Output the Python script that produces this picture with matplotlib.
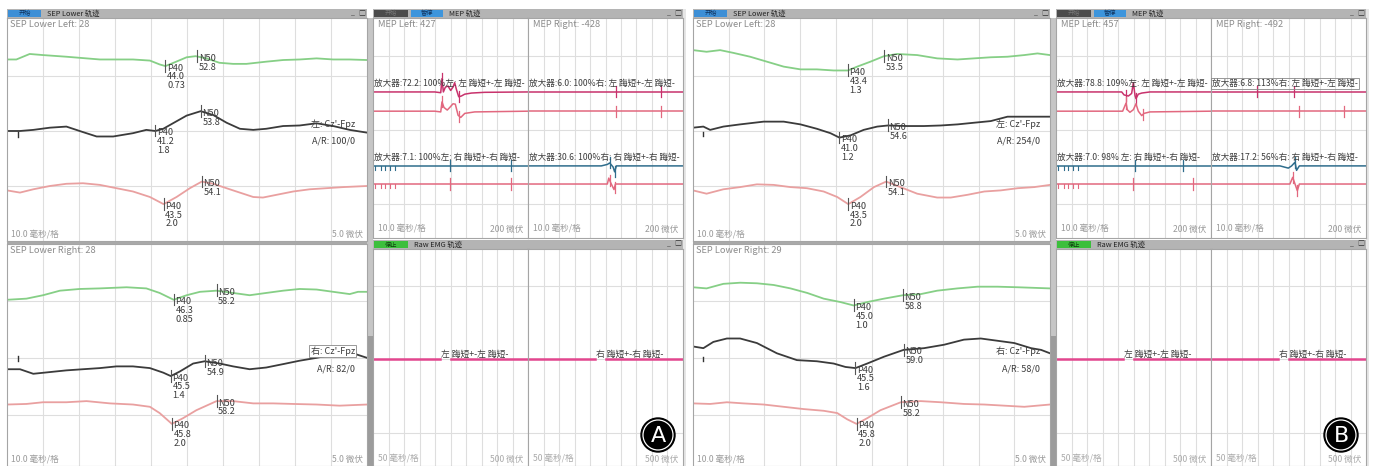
import numpy as np
import matplotlib.pyplot as plt
from matplotlib.patches import Rectangle, Circle

plt.rcParams['font.family'] = ['Noto Sans CJK SC', 'DejaVu Sans']

# ---------------- SEP data (ms, uV) ----------------
# A - upper (SEP Lower Left)
a_up_green_ms = [0, 2.6, 6.3, 10, 16.5, 25.8, 35, 39.7, 42.4, 44, 47, 49.9, 52.4, 55.4, 59, 62.8, 66.5, 72, 76.7, 81.3, 86, 90.6, 95.2, 100]
a_up_green_uv = [16.5, 16.5, 17.0, 16.9, 16.75, 16.5, 16.5, 16.4, 16.05, 15.9, 16.3, 16.7, 16.8, 16.6, 16.2, 16.1, 16.1, 16.3, 16.45, 16.5, 16.6, 16.5, 16.5, 16.45]
a_up_black_ms = [0, 3.6, 7.3, 11.9, 16.5, 21.1, 24.9, 29.5, 35, 38.7, 41.2, 43.4, 46.1, 49.9, 53.8, 57.3, 61, 64.7, 68.4, 72, 76.7, 81.3, 86, 90.6, 95.2, 100]
a_up_black_uv = [10.0, 10.0, 10.1, 10.3, 10.4, 9.9, 9.5, 9.5, 9.8, 10.1, 10.0, 10.2, 10.7, 11.4, 11.8, 11.45, 10.75, 10.2, 10.1, 10.2, 10.45, 10.5, 10.7, 10.45, 10.1, 9.85]
a_up_pink_ms = [0, 3.6, 7.3, 11.9, 16.5, 21.1, 25.8, 30.4, 35, 39.7, 43.5, 47.1, 50.8, 54.1, 57.3, 62.8, 68.4, 71.1, 74.9, 79.5, 84.1, 88.7, 93.4, 100]
a_up_pink_uv = [4.6, 4.4, 4.7, 5.0, 5.2, 5.25, 5.1, 4.8, 4.5, 4.0, 3.35, 4.0, 4.8, 5.4, 5.2, 4.6, 4.0, 3.95, 4.2, 4.5, 4.7, 4.8, 4.9, 5.0]
a_up_p40 = [44.0, 41.2, 43.5]
a_up_p40_amp = ['0.73', '1.8', '2.0']
a_up_n50 = [52.8, 53.8, 54.1]

# A - lower (SEP Lower Right)
a_lo_green_ms = [0, 5.4, 10, 14.7, 20.2, 25.8, 33.2, 38.7, 42.4, 46.3, 49.9, 53.6, 58.2, 62.8, 67.4, 72, 76.7, 81.3, 86, 90.6, 95.2, 97.5, 100]
a_lo_green_uv = [15.1, 15.2, 15.5, 15.9, 16.05, 16.1, 16.2, 16.1, 15.7, 15.1, 15.5, 15.8, 15.9, 15.7, 15.5, 15.7, 15.9, 16.05, 16.0, 15.8, 15.6, 15.8, 15.8]
a_lo_black_ms = [0, 3.6, 7.3, 11.9, 16.5, 21.1, 25.8, 30.4, 35, 39.7, 43.4, 45.5, 48, 51.7, 54.9, 59.1, 62.8, 67.4, 72, 76.7, 81.3, 86, 90.6, 94.3, 97.1, 100]
a_lo_black_uv = [9.0, 9.0, 8.6, 8.75, 8.9, 9.0, 9.1, 9.25, 9.25, 9.1, 8.7, 8.4, 8.8, 9.5, 9.7, 9.5, 9.25, 9.0, 9.15, 9.45, 9.75, 10.0, 10.3, 10.4, 10.3, 10.0]
a_lo_pink_ms = [0, 5.4, 10, 16.5, 22.1, 28.6, 35, 39.7, 42.4, 45.8, 48.9, 52.6, 58.2, 62.8, 68.4, 73.9, 79.5, 86, 92.4, 100]
a_lo_pink_uv = [5.9, 5.95, 6.1, 6.1, 6.2, 6.0, 5.9, 5.7, 5.15, 4.2, 4.7, 5.4, 6.2, 6.2, 6.0, 6.0, 5.95, 5.9, 5.8, 5.9]
a_lo_p40 = [46.3, 45.5, 45.8]
a_lo_p40_amp = ['0.85', '1.4', '2.0']
a_lo_n50 = [58.2, 54.9, 58.2]

# B - upper
b_up_green_ms = [0, 3.8, 7.6, 11.3, 16, 20.7, 25.4, 30.1, 34.7, 39.4, 43.4, 46, 49.7, 53.5, 57.2, 62.8, 68.4, 74.1, 78.7, 83.4, 88.1, 92.8, 96.5, 100]
b_up_green_uv = [17.35, 17.2, 17.35, 17.1, 16.75, 16.3, 15.85, 15.6, 15.6, 15.5, 15.5, 15.85, 16.3, 16.8, 17.0, 16.9, 16.6, 16.5, 16.6, 16.7, 16.75, 16.9, 17.05, 16.9]
b_up_black_ms = [0, 2.9, 4.8, 8.5, 13.2, 19.8, 25.4, 30.1, 34.7, 38.5, 41.0, 44.1, 47.8, 51.6, 54.6, 60, 64.7, 69.4, 74.1, 78.7, 83.4, 88.1, 92.8, 100]
b_up_black_uv = [10.3, 10.4, 10.1, 10.4, 10.6, 10.85, 10.85, 10.6, 10.2, 9.8, 9.4, 9.6, 10.1, 10.4, 10.5, 10.45, 10.45, 10.5, 10.6, 10.75, 10.9, 11.3, 11.3, 11.3]
b_up_pink_ms = [0, 3.8, 8.5, 13.2, 17.9, 22.6, 27.3, 31.9, 36.6, 40.4, 43.5, 46.9, 50.7, 54.1, 58.1, 62.8, 68.4, 72.2, 76.9, 81.6, 86.2, 91, 95.6, 100]
b_up_pink_uv = [4.6, 4.3, 4.7, 4.9, 5.15, 5.1, 4.9, 4.8, 4.5, 4.0, 3.35, 4.0, 4.9, 5.4, 4.9, 4.3, 3.95, 3.95, 4.2, 4.5, 4.6, 4.8, 4.9, 5.1]
b_up_p40 = [43.4, 41.0, 43.5]
b_up_p40_amp = ['1.3', '1.2', '2.0']
b_up_n50 = [53.5, 54.6, 54.1]

# B - lower
b_lo_green_ms = [0, 3.8, 8.5, 13.2, 17.9, 22.6, 27.3, 32, 36.6, 41.3, 45.0, 48.8, 53.5, 58.8, 63.8, 68.4, 74.1, 79.7, 85.3, 91, 100]
b_lo_green_uv = [16.2, 16.1, 16.5, 16.6, 16.55, 16.4, 16.1, 15.7, 15.2, 14.9, 14.6, 14.9, 15.2, 15.5, 15.6, 15.9, 16.1, 16.25, 16.25, 16.2, 16.1]
b_lo_black_ms = [0, 2.9, 5.7, 9.5, 13.2, 17.9, 23.5, 29.1, 34.7, 39.4, 42.7, 45.5, 48.8, 53.5, 59.0, 64.7, 70.3, 75.9, 80.6, 85.3, 90, 94.7, 97.5, 100]
b_lo_black_uv = [11.0, 10.85, 11.4, 11.7, 11.7, 11.3, 10.4, 9.8, 9.7, 9.5, 9.2, 9.1, 9.5, 10.1, 10.7, 10.85, 11.15, 11.6, 11.7, 11.5, 11.3, 10.85, 10.7, 10.4]
b_lo_pink_ms = [0, 4.8, 9.5, 14.1, 19.8, 25.4, 31, 36.6, 40.4, 43.2, 45.8, 48.8, 52.5, 58.2, 63.8, 69.4, 75.9, 81.6, 87.2, 92.8, 100]
b_lo_pink_uv = [6.0, 5.95, 6.1, 6.0, 5.9, 5.7, 5.5, 5.35, 5.15, 4.6, 4.2, 4.7, 5.4, 6.1, 6.2, 6.1, 5.95, 5.9, 5.8, 5.7, 5.9]
b_lo_p40 = [45.0, 45.5, 45.8]
b_lo_p40_amp = ['1.0', '1.6', '2.0']
b_lo_n50 = [58.8, 59.0, 58.2]

# stimulus mark on the cortical trace: ms, low uV, high uV
a_up_stim = [3.0, 9.45, 9.9]
a_lo_stim = [3.0, 9.7, 10.2]
b_up_stim = [2.7, 9.5, 9.9]
b_lo_stim = [2.7, 9.7, 10.1]

# ---------------- MEP data (ms, uV deflection) ----------------
flat_ms = [0, 100]
flat_uv = [0, 0]
a_mep_l_mag_ms = [0, 39.8, 43.7, 44.5, 45.4, 46.7, 48.4, 50.1, 51.6, 52.7, 53.8, 55.3, 57, 59.2, 63.5, 72, 100]
a_mep_l_mag_uv = [0, 0, -2, 36, 0, 13, 16, 4, 13, 25, 7, -13, -11, -6, -3, -1, 0]
a_mep_l_pk_ms = [0, 39.8, 43.7, 44.5, 45.8, 47.9, 49.5, 51.6, 53.1, 54.9, 56.6, 59.2, 65.6, 100]
a_mep_l_pk_uv = [0, 0, -2, 25, 10, 3, 10, 20, 19, -11, -17, -6, -2, 0]
a_mep_r_teal_ms = [0, 47.3, 51.2, 52.7, 54.9, 55.9, 57, 100]
a_mep_r_teal_uv = [0, 0, 4, 8, -3, -16, 0, 0]
a_mep_r_pk2_ms = [0, 51.2, 52.1, 53.4, 55.5, 56.4, 100]
a_mep_r_pk2_uv = [0, 0, 16, 3, -15, 0, 0]
b_mep_l_mag_ms = [0, 42.4, 43.9, 46.7, 48.8, 49.9, 51, 51.6, 53.1, 55.3, 60.6, 100]
b_mep_l_mag_uv = [0, 0, -8, -11, -4, 25, -10, -18, -6, -3, 0, 0]
b_mep_l_pk_ms = [0, 43, 45.2, 46, 47.7, 49.9, 51.6, 53.1, 55.3, 56.8, 60.6, 100]
b_mep_l_pk_uv = [0, 0, 22, 4, -3, 4, 20, 0, -12, -6, -2, 0]
b_mep_r_teal_ms = [0, 44.5, 49.9, 52, 54.2, 55.2, 57, 100]
b_mep_r_teal_uv = [0, 0, -6, 0, 10, -12, 0, 0]
b_mep_r_pk2_ms = [0, 50.9, 52.7, 54.2, 55.7, 57, 100]
b_mep_r_pk2_uv = [0, 0, 18, 0, -18, 0, 0]
stim_artifacts = [1.5, 5, 8, 11, 14]

a_mep_labels_l = ['放大器:72.2: 100%左: 左 踇短+-左 踇短-', '放大器:7.1: 100%左: 右 踇短+-右 踇短-']
a_mep_labels_r = ['放大器:6.0: 100%右: 左 踇短+-左 踇短-', '放大器:30.6: 100%右: 右 踇短+-右 踇短-']
b_mep_labels_l = ['放大器:78.8: 109%左: 左 踇短+-左 踇短-', '放大器:7.0: 98% 左: 右 踇短+-右 踇短-']
b_mep_labels_r = ['放大器:6.8: 113%右: 左 踇短+-左 踇短-', '放大器:17.2: 56%右: 右 踇短+-右 踇短-']

# Raw EMG (ms, uV)
emg_ms_1 = [0, 216]
emg_ms_2 = [250, 500]
emg_uv = [0, 0]

# ---------------- figure ----------------
W, H = 1373, 466
fig = plt.figure(figsize=(W / 100, H / 100), dpi=100)
fig.patch.set_facecolor('white')
bg = fig.add_axes([0, 0, 1, 1], zorder=0)
bg.set_xlim(0, W); bg.set_ylim(H, 0); bg.axis('off')
top = fig.add_axes([0, 0, 1, 1], zorder=5)
top.set_xlim(0, W); top.set_ylim(H, 0); top.axis('off')

GREEN, BLACK, PINK = '#86cf86', '#3b3b3b', '#e9a0a0'
MAG, MPK, TEAL = '#c8326c', '#e2687f', '#2f6d8c'
TXT, GRAY = '#3c3c3c', '#9a9a9a'


def box(x0, y0, x1, y1, color, ax=bg):
    ax.add_patch(Rectangle((x0, y0), x1 - x0, y1 - y0, facecolor=color, edgecolor='none'))


def px_axes(x0, y0, x1, y1):
    ax = fig.add_axes([x0 / W, 1 - y1 / H, (x1 - x0) / W, (y1 - y0) / H], zorder=1)
    for s in ax.spines.values():
        s.set_color('#a5a5a5'); s.set_linewidth(0.8)
    ax.tick_params(length=0, labelbottom=False, labelleft=False)
    ax.grid(True, color='#dedede', lw=0.8)
    ax.set_axisbelow(True)
    return ax


def header(x0, x1, y0, buttons, title):
    box(x0, y0, x1, y0 + 9, '#b4b4b4')
    for bx0, bx1, col, txt, tc in buttons:
        box(bx0, y0 + 1, bx1, y0 + 8, col)
        bg.text((bx0 + bx1) / 2, y0 + 4.5, txt, fontsize=4.5, color=tc, ha='center', va='center')
    bg.text(buttons[-1][1] + 6, y0 + 4.5, title, fontsize=5.3, color='#222', va='center')
    bg.text(x1 - 14, y0 + 4.5, '_', fontsize=5, color='#333', va='center', ha='center')
    bg.text(x1 - 5, y0 + 4.5, '□', fontsize=5, color='#333', va='center', ha='center')


def sep_panel(x0, y0, x1, y1, ylim, name, traces, p40, p40_amp, n50, stim, montage, ar, mx, boxed):
    ax = px_axes(x0, y0, x1, y1)
    ax.set_xlim(0, 100); ax.set_ylim(*ylim)
    ax.set_xticks(np.arange(10, 100, 10)); ax.set_yticks([5, 10, 15])
    for (t, v, c), lat, amp, n in zip(traces, p40, p40_amp, n50):
        ax.plot(t, v, color=c, lw=1.3)
        for L, lab in ((lat, f'P40\n{lat:.1f}\n{amp}'), (n, f'N50\n{n:.1f}')):
            y = np.interp(L, t, v)
            ax.plot([L, L], [y - 0.5, y + 0.55], color='#555', lw=0.8)
            ax.annotate(lab, (L, y), xytext=(1.2, 1.8), textcoords='offset points',
                        va='top', ha='left', fontsize=6.6, color=TXT, linespacing=0.98)
    ax.plot([stim[0], stim[0]], stim[1:], color='#333', lw=1.0)
    kw = dict(boxstyle='square,pad=0.15', fc='white', ec='#888', lw=0.6) if boxed else None
    ax.text(mx, 10.6, montage, ha='right', va='center', fontsize=6.5, color=TXT, bbox=kw)
    ax.text(mx, 9.05, ar, ha='right', va='center', fontsize=6.5, color=TXT)
    ax.text(0.008, 0.99, name, transform=ax.transAxes, va='top', fontsize=6.7, color='#8c8c8c')
    ax.text(0.012, 0.008, '10.0 毫秒/格', transform=ax.transAxes, va='bottom', fontsize=6.2, color=GRAY)
    ax.text(0.99, 0.008, '5.0 微伏', transform=ax.transAxes, va='bottom', ha='right', fontsize=6.2, color=GRAY)
    return ax


MEP_BASE = [503, 451, 303, 254]


def mep_panel(x0, x1, name, traces, labels, boxed=False):
    ax = px_axes(x0, 18, x1, 238)
    ax.set_xlim(0, 100); ax.set_ylim(108, 703)
    ax.set_xticks(np.arange(10, 100, 10)); ax.set_yticks([200, 400, 600])
    for (t, v, c, marks, arts), base in zip(traces, MEP_BASE):
        y = base + np.asarray(v, float)
        ax.plot(t, y, color=c, lw=1.1)
        for m in marks:
            ym = base + np.interp(m, t, v)
            ax.plot([m, m], [ym - 15, ym + 15], color=c, lw=0.9)
        for a in arts:
            ax.plot([a, a], [base, base - 11], color=c, lw=0.8)
    kw = dict(boxstyle='square,pad=0.1', fc='none', ec='#888', lw=0.6) if boxed else None
    ax.text(0.5, MEP_BASE[0] + 22, labels[0], va='center', fontsize=6.2, color=TXT, clip_on=False, bbox=kw)
    ax.text(0.5, MEP_BASE[2] + 24, labels[1], va='center', fontsize=6.2, color=TXT, clip_on=False)
    if name:
        ax.text(0.03, 0.99, name, transform=ax.transAxes, va='top', fontsize=6.7, color='#8c8c8c')
    ax.text(0.03, 0.02, '10.0 毫秒/格', transform=ax.transAxes, va='bottom', fontsize=6.2, color=GRAY)
    ax.text(0.97, 0.02, '200 微伏', transform=ax.transAxes, va='bottom', ha='right', fontsize=6.2, color=GRAY)
    return ax


def emg_panel(x0, x1, label):
    ax = px_axes(x0, 249, x1, 466)
    ax.set_xlim(0, 500); ax.set_ylim(-725, 752)
    ax.set_xticks(np.arange(50, 500, 50)); ax.set_yticks([-500, 0, 500])
    ax.plot(emg_ms_1, emg_uv, color='#e2468e', lw=1.8)
    ax.plot(emg_ms_2, emg_uv, color='#e2468e', lw=1.8)
    ax.text(218, 32, label, va='center', fontsize=6.3, color=TXT)
    ax.text(0.03, 0.01, '50 毫秒/格', transform=ax.transAxes, va='bottom', fontsize=6.2, color='#aaaaaa')
    ax.text(0.97, 0.01, '500 微伏', transform=ax.transAxes, va='bottom', ha='right', fontsize=6.2, color='#aaaaaa')
    return ax


def build(ox, sep_x1, mep_x0, up, lo, names, mep_names, mep_l, mep_r, mep_lab_l, mep_lab_r, boxed_lo, boxed_mep, mx, letter):
    mep_mid = mep_x0 + 155
    mep_x1 = mep_x0 + 310
    # chrome
    header(ox, sep_x1, 9, [(ox + 1, ox + 34, '#3d8fd6', '开始', '#10335e')], 'SEP Lower 轨迹')
    header(mep_x0, mep_x1, 9, [(mep_x0 + 1, mep_x0 + 35, '#4b4b4b', '开始', '#777'),
                               (mep_x0 + 38, mep_x0 + 70, '#3d95dc', '暂停', '#10335e')], 'MEP 轨迹')
    header(mep_x0, mep_x1, 240, [(mep_x0 + 1, mep_x0 + 35, '#3cbf3c', '停止', '#0f3f0f')], 'Raw EMG 轨迹')
    box(sep_x1, 18, mep_x0, 466, '#c6c6c6')
    box(sep_x1, 336, mep_x0, 466, '#9c9c9c')
    box(ox, 241, sep_x1, 244, '#aaaaaa')
    box(mep_x1, 9, mep_x1 + 3, 466, '#e6e6e6')

    sep_panel(ox, 18, sep_x1, 241, (0, 20.27), names[0], up[0], up[1], up[2], up[3], up[4],
              "左: Cz'-Fpz", up[5], mx, False)
    sep_panel(ox, 244, sep_x1, 466, (0.5, 20.0), names[1], lo[0], lo[1], lo[2], lo[3], lo[4],
              "右: Cz'-Fpz", lo[5], mx, boxed_lo)
    mep_panel(mep_x0, mep_mid, mep_names[0], mep_l, mep_lab_l)
    mep_panel(mep_mid, mep_x1, mep_names[1], mep_r, mep_lab_r, boxed_mep)
    emg_panel(mep_x0, mep_mid, '左 踇短+-左 踇短-')
    emg_panel(mep_mid, mep_x1, '右 踇短+-右 踇短-')

    cx, cy = mep_x1 - 25, 435
    top.add_patch(Circle((cx, cy), 17, fc='black', ec='black'))
    top.add_patch(Circle((cx, cy), 15, fc='none', ec='white', lw=0.9))
    top.text(cx, cy + 0.5, letter, color='white', fontsize=16, ha='center', va='center', family='DejaVu Sans')


a_up = ([(a_up_green_ms, a_up_green_uv, GREEN), (a_up_black_ms, a_up_black_uv, BLACK), (a_up_pink_ms, a_up_pink_uv, PINK)],
        a_up_p40, a_up_p40_amp, a_up_n50, a_up_stim, 'A/R: 100/0')
a_lo = ([(a_lo_green_ms, a_lo_green_uv, GREEN), (a_lo_black_ms, a_lo_black_uv, BLACK), (a_lo_pink_ms, a_lo_pink_uv, PINK)],
        a_lo_p40, a_lo_p40_amp, a_lo_n50, a_lo_stim, 'A/R: 82/0')
b_up = ([(b_up_green_ms, b_up_green_uv, GREEN), (b_up_black_ms, b_up_black_uv, BLACK), (b_up_pink_ms, b_up_pink_uv, PINK)],
        b_up_p40, b_up_p40_amp, b_up_n50, b_up_stim, 'A/R: 254/0')
b_lo = ([(b_lo_green_ms, b_lo_green_uv, GREEN), (b_lo_black_ms, b_lo_black_uv, BLACK), (b_lo_pink_ms, b_lo_pink_uv, PINK)],
        b_lo_p40, b_lo_p40_amp, b_lo_n50, b_lo_stim, 'A/R: 58/0')

a_mep_l = [(a_mep_l_mag_ms, a_mep_l_mag_uv, MAG, [44.5, 55.8], []),
           (a_mep_l_pk_ms, a_mep_l_pk_uv, MPK, [44.5, 55.8], []),
           (flat_ms, flat_uv, TEAL, [49.5, 88.8], stim_artifacts),
           (flat_ms, flat_uv, MPK, [49.5, 88.8], stim_artifacts)]
a_mep_r = [(flat_ms, flat_uv, MAG, [57, 85.6], []),
           (flat_ms, flat_uv, MPK, [57, 85.6], []),
           (a_mep_r_teal_ms, a_mep_r_teal_uv, TEAL, [52.7, 55.9], []),
           (a_mep_r_pk2_ms, a_mep_r_pk2_uv, MPK, [52.7, 55.9], [])]
b_mep_l = [(b_mep_l_mag_ms, b_mep_l_mag_uv, MAG, [45.2, 51.6], []),
           (b_mep_l_pk_ms, b_mep_l_pk_uv, MPK, [45.2, 55.9], []),
           (flat_ms, flat_uv, TEAL, [51, 82.1], stim_artifacts),
           (flat_ms, flat_uv, MPK, [49.9, 88.6], stim_artifacts)]
b_mep_r = [(flat_ms, flat_uv, MAG, [29.9, 53.7], []),
           (flat_ms, flat_uv, MPK, [57, 85.8], []),
           (b_mep_r_teal_ms, b_mep_r_teal_uv, TEAL, [54.2], []),
           (b_mep_r_pk2_ms, b_mep_r_pk2_uv, MPK, [52.7, 55.7], [])]

build(7, 367, 373, a_up, a_lo, ['SEP Lower Left: 28', 'SEP Lower Right: 28'],
      ['MEP Left: 427', 'MEP Right: -428'], a_mep_l, a_mep_r, a_mep_labels_l, a_mep_labels_r,
      True, False, 96.6, 'A')
build(693, 1050, 1056, b_up, b_lo, ['SEP Lower Left: 28', 'SEP Lower Right: 29'],
      ['MEP Left: 457', 'MEP Right: -492'], b_mep_l, b_mep_r, b_mep_labels_l, b_mep_labels_r,
      False, True, 97.3, 'B')

fig.savefig('out.png', dpi=100, facecolor='white')
